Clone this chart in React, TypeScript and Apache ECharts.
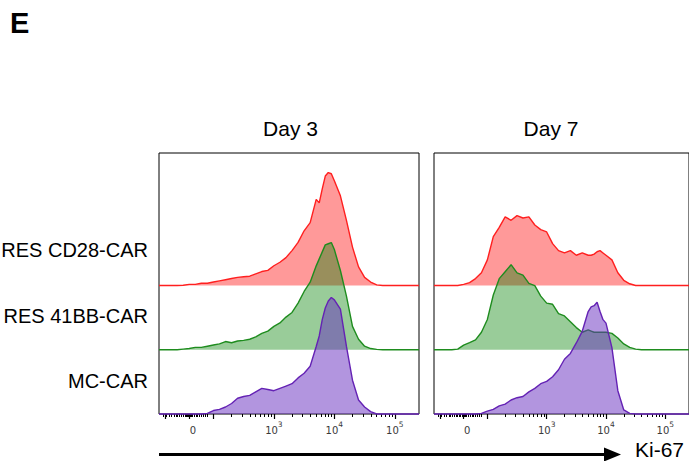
import React, { useEffect, useRef } from "react";
import * as echarts from "echarts";

// Ki-67 channel positions (biexponential display units: 3 = 10^3, 4 = 10^4, 5 = 10^5)
const ki67Bins = [
  1.1, 1.2, 1.3, 1.4, 1.5, 1.6, 1.7, 1.8, 1.9, 2.0, 2.1, 2.2, 2.3, 2.4, 2.5, 2.6, 2.7, 2.8, 2.9, 3.0,
  3.1, 3.2, 3.3, 3.4, 3.5, 3.6, 3.7, 3.75, 3.8, 3.85, 3.9, 3.95, 4.0, 4.1, 4.2, 4.3, 4.4, 4.5, 4.6,
  4.7, 4.8, 4.9, 5.0, 5.1, 5.2, 5.3, 5.4,
];

// Normalized counts (% of mode, scaled) per bin
const day3Cd28 = [
  0, 0, 0, 0, 0.3, 1, 1, 2, 2, 3, 4, 5, 6, 7, 7.5, 8, 10, 12, 13, 17,
  20, 24, 30, 37, 47, 54, 74, 71, 83, 94, 97, 96, 90, 77, 56, 33, 16, 7, 3,
  0.6, 0, 0, 0, 0, 0, 0, 0,
];
const day3Bb = [
  0, 0, 0, 0, 0.5, 1, 2, 2, 3, 4, 5, 7, 6, 7.5, 8, 9, 11, 14, 16, 20,
  23, 28, 32, 40, 50, 58, 72, 78, 84, 90, 91, 92, 86, 68, 46, 20, 9, 3, 1,
  0.3, 0, 0, 0, 0, 0, 0, 0,
];
const day3Mc = [
  0, 0, 0, 0, 0, 0, 0, 0, 0.5, 3, 4, 6, 9, 13.5, 15, 16, 19, 22, 21, 20,
  22, 24, 26, 31, 35, 41, 58, 67, 81, 91, 97, 100, 98, 90, 58, 29, 12, 6, 2,
  0, 0, 0, 0, 0, 0, 0, 0,
];
const day7Cd28 = [
  0, 0, 0, 0, 0, 1, 2.5, 6, 11, 22, 42, 50, 59, 56, 60, 58, 59, 52, 48, 46,
  36, 30, 28, 30, 26, 28, 26, 26, 27, 29, 30, 28, 26, 22, 11, 4.5, 1.5, 0, 0,
  0, 0, 0, 0, 0, 0, 0, 0,
];
const day7Bb = [
  0, 0, 0, 0, 0.5, 4, 6, 8.5, 15, 26, 47, 61, 67, 73, 66, 64, 57, 55, 46, 40,
  39, 31, 29, 24, 19, 15, 17, 16, 15, 15, 15, 15, 15, 14, 10, 5, 2, 0.5, 0,
  0, 0, 0, 0, 0, 0, 0, 0,
];
const day7Mc = [
  0, 0, 0, 0, 0, 0, 0, 0, 0.5, 2.5, 4, 7, 8.5, 12, 14, 15, 19, 22, 26, 28,
  32, 38, 47, 52, 61, 71, 88, 92, 93, 96, 88, 81, 78, 57, 20, 3.5, 0.5, 0, 0,
  0, 0, 0, 0, 0, 0, 0, 0,
];

const dayLabels = ["Day 3", "Day 7"];
const rowLabels = ["RES CD28-CAR", "RES 41BB-CAR", "MC-CAR"];
const panelData = [
  [day3Cd28, day3Bb, day3Mc],
  [day7Cd28, day7Bb, day7Mc],
];

const tickLabelPositions = [1.66, 3, 4, 5];
const tickLabelTexts = ["0", "10|3", "10|4", "10|5"];
const majorTickPositions = [1.2, 1.6, 2, 3, 4, 5];
const linearTickPositions = [
  1.17, 1.22, 1.27, 1.31, 1.35, 1.38, 1.41, 1.44, 1.47, 1.5, 1.53, 1.55, 1.57, 1.59, 1.61,
  1.63, 1.65, 1.68, 1.71, 1.74, 1.77, 1.8, 1.83, 1.86, 1.9,
];

const lineColors = ["#ff1f1f", "#1e8c1e", "#6422b4"];
const fillColors = ["rgba(255,0,0,0.4)", "rgba(0,128,0,0.4)", "rgba(102,44,191,0.5)"];
const rowOffsets = [110.3, 55.2, 0];

export default function App() {
  const ref = useRef<HTMLDivElement>(null);
  useEffect(() => {
    if (!ref.current) return;
    const chart = echarts.init(ref.current, undefined, { renderer: "svg" });

    const logMinor: number[] = [];
    for (let k = 2; k <= 4; k++) {
      for (let m = 2; m <= 9; m++) logMinor.push(k + Math.log10(m));
    }
    const minorTicks = [...linearTickPositions, ...logMinor];

    const gridLefts = [159, 434];
    const grids = gridLefts.map((left) => ({
      left,
      top: 153,
      width: 260,
      height: 261,
      show: true,
      borderColor: "#000",
      borderWidth: 1,
      backgroundColor: "transparent",
      containLabel: false,
    }));

    const xAxes: any[] = [];
    const yAxes: any[] = [];
    gridLefts.forEach((_, gi) => {
      xAxes.push({
        type: "value",
        gridIndex: gi,
        min: 1.1,
        max: 5.4,
        position: "bottom",
        splitLine: { show: false },
        axisLine: { show: false },
        axisTick: {
          show: true,
          customValues: majorTickPositions,
          length: 5,
          lineStyle: { color: "#000", width: 1.2 },
        },
        axisLabel: {
          show: true,
          customValues: tickLabelPositions,
          margin: 6,
          color: "#333",
          formatter: (v: number) => {
            const i = tickLabelPositions.findIndex((p) => Math.abs(p - v) < 1e-6);
            if (i < 0) return "";
            const [b, s] = tickLabelTexts[i].split("|");
            return s ? `{n|${b}}{s|${s}}` : `{n|${b}}`;
          },
          rich: {
            n: { fontSize: 10, lineHeight: 21, fontFamily: "DejaVu Sans", color: "#3a3a3a" },
            s: { fontSize: 7.5, verticalAlign: "top", fontFamily: "DejaVu Sans", color: "#3a3a3a" },
          },
        },
      });
      xAxes.push({
        type: "value",
        gridIndex: gi,
        min: 1.1,
        max: 5.4,
        position: "bottom",
        splitLine: { show: false },
        axisLine: { show: false },
        axisTick: {
          show: true,
          customValues: minorTicks,
          length: 3,
          lineStyle: { color: "#000", width: 1 },
        },
        axisLabel: { show: false },
      });
      yAxes.push({
        type: "value",
        gridIndex: gi,
        min: 0,
        max: 224.1,
        show: false,
      });
    });

    const series: any[] = [];
    panelData.forEach((rows, pi) => {
      rows.forEach((counts, ri) => {
        const off = rowOffsets[ri];
        series.push({
          type: "line",
          name: `${dayLabels[pi]} ${rowLabels[ri]}`,
          xAxisIndex: pi * 2,
          yAxisIndex: pi,
          data: ki67Bins.map((b, i) => [b, off + counts[i]]),
          symbol: "none",
          smooth: false,
          clip: false,
          lineStyle: { color: lineColors[ri], width: 1.4 },
          areaStyle: { color: fillColors[ri], origin: off, opacity: 1 },
          z: 2 + ri,
        });
      });
    });

    const font = "Liberation Sans, Arial, sans-serif";
    const graphic: any[] = [
      {
        type: "text",
        x: 10,
        y: 23,
        style: { text: "E", font: `bold 29px ${font}`, fill: "#000", textVerticalAlign: "middle" },
      },
      {
        type: "text",
        x: 290.5,
        y: 128,
        style: { text: dayLabels[0], font: `21px ${font}`, fill: "#000", textAlign: "center", textVerticalAlign: "middle" },
      },
      {
        type: "text",
        x: 551,
        y: 128,
        style: { text: dayLabels[1], font: `21px ${font}`, fill: "#000", textAlign: "center", textVerticalAlign: "middle" },
      },
      ...rowLabels.map((t, i) => ({
        type: "text",
        x: 148,
        y: [250, 315.5, 380.5][i],
        style: { text: t, font: `20px ${font}`, fill: "#000", textAlign: "right", textVerticalAlign: "middle" },
      })),
      {
        type: "line",
        shape: { x1: 159, y1: 454.5, x2: 607, y2: 454.5 },
        style: { stroke: "#000", lineWidth: 3 },
      },
      {
        type: "polygon",
        shape: { points: [[604, 447.5], [621, 454.5], [604, 461.5]] },
        style: { fill: "#000" },
      },
      {
        type: "text",
        x: 635,
        y: 449,
        style: { text: "Ki-67", font: `21px ${font}`, fill: "#000", textAlign: "left", textVerticalAlign: "middle" },
      },
    ];

    chart.setOption({
      animation: false,
      backgroundColor: "#fff",
      grid: grids,
      xAxis: xAxes,
      yAxis: yAxes,
      series,
      graphic,
    });
    return () => chart.dispose();
  }, []);
  return (
    <div
      ref={ref}
      style={{ position: "absolute", left: 0, top: 0, width: 689, height: 461 }}
    />
  );
}
